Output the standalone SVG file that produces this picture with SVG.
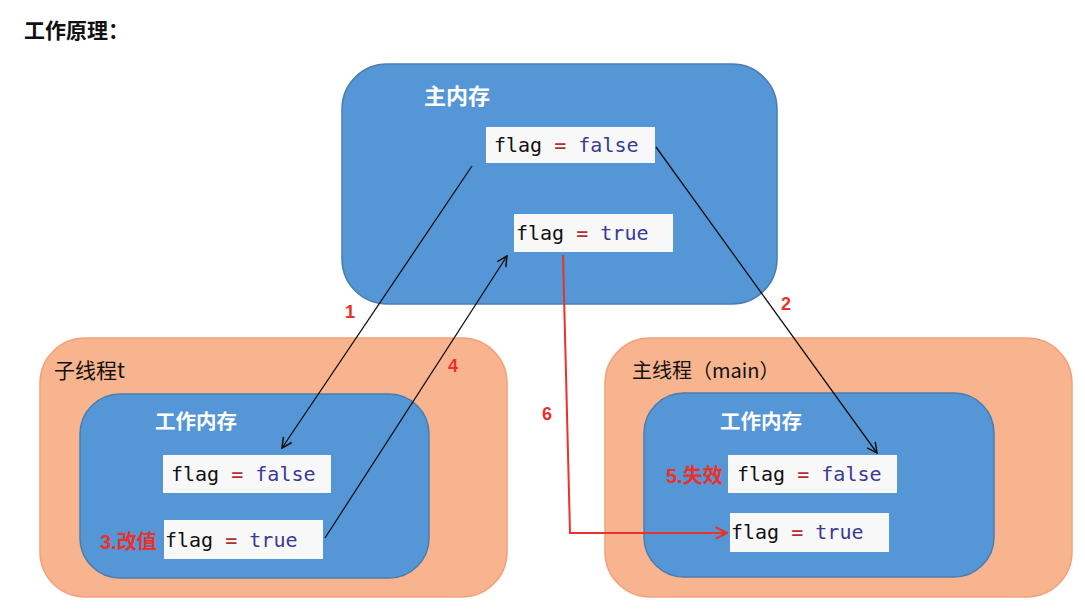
<svg xmlns="http://www.w3.org/2000/svg" width="1085" height="615" viewBox="0 0 1085 615">
<defs>
<marker id="ab" viewBox="0 0 12 12" refX="11" refY="6" markerWidth="12" markerHeight="12" markerUnits="userSpaceOnUse" orient="auto">
<path d="M1,1 L11,6 L1,11" fill="none" stroke="#111" stroke-width="1.5"/>
</marker>
<marker id="ar" viewBox="0 0 12 12" refX="11" refY="6" markerWidth="14" markerHeight="14" markerUnits="userSpaceOnUse" orient="auto">
<path d="M1,1 L11,6 L1,11" fill="none" stroke="#e8322a" stroke-width="1.8"/>
</marker>
</defs>
<style>
.blue{fill:#5596d6;stroke:#4a7db0;stroke-width:1.5}
.orange{fill:#f8b48e;stroke:#f2a27a;stroke-width:1.5}
.cbox{fill:#f8f8f8}
.code{font-family:"DejaVu Sans Mono","Liberation Mono",monospace;font-size:20px;fill:#111}
.eq{fill:#b03030}
.kw{fill:#3a3a96}
.wt{font-family:"Noto Sans CJK SC",sans-serif;font-size:20.5px;fill:#fff;font-weight:bold}
.bt{font-family:"Noto Sans CJK SC",sans-serif;font-size:21px;fill:#111}
.red{font-family:"Liberation Sans","Noto Sans CJK SC",sans-serif;font-size:20px;fill:#e8322a;font-weight:bold}
.num{font-family:"Liberation Sans",sans-serif;font-size:18px;fill:#e8322a;font-weight:bold}
.ln{stroke:#111;stroke-width:1.3;fill:none}
</style>
<rect width="1085" height="615" fill="#fff"/>
<text x="24" y="38" font-family="Noto Sans CJK SC,sans-serif" font-size="21" font-weight="bold" fill="#111">工作原理：</text>

<g id="main-memory">
<rect class="blue" x="342" y="64" width="435" height="240" rx="45"/>
<text class="wt" x="424" y="104" style="font-size:22px">主内存</text>
<rect class="cbox" x="486" y="127" width="169" height="36"/>
<text class="code" x="494" y="152">flag <tspan class="eq">=</tspan> <tspan class="kw">false</tspan></text>
<rect class="cbox" x="514" y="214" width="159" height="38"/>
<text class="code" x="516" y="240">flag <tspan class="eq">=</tspan> <tspan class="kw">true</tspan></text>
</g>

<g id="thread-t">
<rect class="orange" x="40" y="338" width="467" height="259" rx="45"/>
<text class="bt" x="54" y="378">子线程t</text>
<rect class="blue" x="80" y="394" width="349" height="184" rx="40"/>
<text class="wt" x="155" y="429">工作内存</text>
<rect class="cbox" x="163" y="455" width="168" height="38"/>
<text class="code" x="171" y="481">flag <tspan class="eq">=</tspan> <tspan class="kw">false</tspan></text>
<rect class="cbox" x="164" y="520" width="159" height="39"/>
<text class="code" x="165" y="547">flag <tspan class="eq">=</tspan> <tspan class="kw">true</tspan></text>
<text class="red" x="100" y="549">3.改值</text>
</g>

<g id="thread-main">
<rect class="orange" x="605" y="338" width="467" height="259" rx="45"/>
<text class="bt" x="632" y="378" style="font-size:20px">主线程（main）</text>
<rect class="blue" x="644" y="393" width="350" height="184" rx="40"/>
<text class="wt" x="720" y="429">工作内存</text>
<rect class="cbox" x="728" y="455" width="169" height="38"/>
<text class="code" x="737" y="481">flag <tspan class="eq">=</tspan> <tspan class="kw">false</tspan></text>
<rect class="cbox" x="730" y="513" width="159" height="39"/>
<text class="code" x="731" y="539">flag <tspan class="eq">=</tspan> <tspan class="kw">true</tspan></text>
<text class="red" x="666" y="483">5.失效</text>
</g>

<g id="connectors">
<line class="ln" x1="472" y1="166" x2="282" y2="448" marker-end="url(#ab)"/>
<line class="ln" x1="325" y1="538" x2="507" y2="256" marker-end="url(#ab)"/>
<line class="ln" x1="656" y1="147" x2="877" y2="453" marker-end="url(#ab)"/>
<polyline points="563,255 570,533 727,533" fill="none" stroke="#e8322a" stroke-width="2" marker-end="url(#ar)"/>
<text class="num" x="345" y="318">1</text>
<text class="num" x="448" y="372">4</text>
<text class="num" x="781" y="310">2</text>
<text class="num" x="542" y="420">6</text>
</g>
</svg>
